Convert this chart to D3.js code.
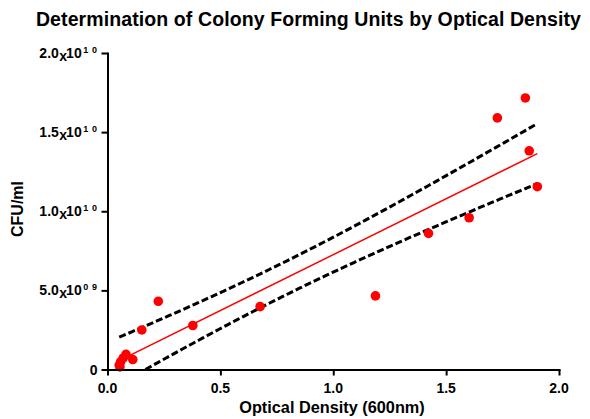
<!DOCTYPE html>
<html>
<head>
<meta charset="utf-8">
<script src="https://cdn.jsdelivr.net/npm/d3@7/dist/d3.min.js"></script>
<style>
  html, body { margin: 0; padding: 0; background: #fff; }
  svg { display: block; font-family: Arial, "Liberation Sans", sans-serif; }
</style>
</head>
<body>
<svg id="chart" width="590" height="419"></svg>
<script>
// Optical density readings (600 nm) and matching plate counts (CFU/ml)
const odDensity = [0.052, 0.055, 0.058, 0.070, 0.082, 0.112, 0.152, 0.225, 0.378,
                   0.676, 1.187, 1.422, 1.602, 1.727, 1.851, 1.868, 1.904];
const cfuCounts = [0.27e9, 0.16e9, 0.48e9, 0.73e9, 0.96e9, 0.63e9, 2.5e9, 4.31e9, 2.78e9,
                   3.97e9, 4.65e9, 8.6e9, 9.59e9, 15.9e9, 17.16e9, 13.82e9, 11.55e9];

const xTicks = [0, 0.5, 1.0, 1.5, 2.0];
const xTickLabels = ["0.0", "0.5", "1.0", "1.5", "2.0"];
const yTicks = [0, 5e9, 1e10, 1.5e10, 2e10];
// mantissa / exponent pairs for the scientific-notation tick labels
const yTickMantissa = ["0", "5.0", "1.0", "1.5", "2.0"];
const yTickExponent = [null, "0 9", "1 0", "1 0", "1 0"];

const titleText = "Determination of Colony Forming Units by Optical Density";
const xTitle = "Optical Density (600nm)";
const yTitle = "CFU/ml";

// two-sided 95% Student t for n - 2 = 15 degrees of freedom
const T_CRIT = 2.1314;

const svg = d3.select("#chart");
const x = d3.scaleLinear().domain([0, 2]).range([107.5, 559]);
const y = d3.scaleLinear().domain([0, 2e10]).range([369.5, 53]);

// ---- least-squares fit and 95% confidence band of the line ----
const n = odDensity.length;
const mx = d3.mean(odDensity), my = d3.mean(cfuCounts);
let sxx = 0, sxy = 0;
for (let i = 0; i < n; i++) {
  sxx += (odDensity[i] - mx) ** 2;
  sxy += (odDensity[i] - mx) * (cfuCounts[i] - my);
}
const slope = sxy / sxx;
const intercept = my - slope * mx;
let ssr = 0;
for (let i = 0; i < n; i++) ssr += (cfuCounts[i] - (intercept + slope * odDensity[i])) ** 2;
const sres = Math.sqrt(ssr / (n - 2));

const [xmin, xmax] = d3.extent(odDensity);
const grid = d3.range(0, 101).map(k => xmin + (xmax - xmin) * k / 100);
const fit = v => intercept + slope * v;
const half = v => T_CRIT * sres * Math.sqrt(1 / n + (v - mx) ** 2 / sxx);

svg.append("defs").append("clipPath").attr("id", "plotClip")
  .append("rect").attr("x", x(0)).attr("y", y(2e10))
  .attr("width", x(2) - x(0)).attr("height", y(0) - y(2e10));

const plot = svg.append("g").attr("clip-path", "url(#plotClip)");
const line = d3.line().x(d => x(d[0])).y(d => y(d[1]));

plot.append("path")
  .datum(grid.map(v => [v, fit(v) + half(v)]))
  .attr("d", line).attr("fill", "none").attr("stroke", "#000")
  .attr("stroke-width", 3).attr("stroke-dasharray", "7,3");
plot.append("path")
  .datum(grid.map(v => [v, fit(v) - half(v)]))
  .attr("d", line).attr("fill", "none").attr("stroke", "#000")
  .attr("stroke-width", 3).attr("stroke-dasharray", "7,3");
plot.append("path")
  .datum([[xmin, fit(xmin)], [xmax, fit(xmax)]])
  .attr("d", line).attr("fill", "none").attr("stroke", "#ff0000")
  .attr("stroke-width", 1.5);

// ---- data points ----
svg.append("g").selectAll("circle")
  .data(odDensity.map((v, i) => [v, cfuCounts[i]]))
  .join("circle")
  .attr("cx", d => x(d[0])).attr("cy", d => y(d[1]))
  .attr("r", 4.8).attr("fill", "#ff0000");

// ---- axes ----
const xAxis = svg.append("g").attr("transform", `translate(0,${y(0)})`)
  .call(d3.axisBottom(x).tickValues(xTicks).tickSize(6).tickSizeOuter(0).tickFormat(""));
const yAxis = svg.append("g").attr("transform", `translate(${x(0)},0)`)
  .call(d3.axisLeft(y).tickValues(yTicks).tickSize(6).tickSizeOuter(0).tickFormat(""));
[xAxis, yAxis].forEach(g => {
  g.selectAll("path, line").attr("stroke", "#000").attr("stroke-width", 2);
  g.select(".domain").attr("stroke-linecap", "square");
});

svg.append("g").selectAll("text")
  .data(xTicks)
  .join("text")
  .attr("x", d => x(d)).attr("y", y(0) + 23.5)
  .attr("text-anchor", "middle")
  .attr("font-size", 14).attr("font-weight", "bold").attr("fill", "#000")
  .text((d, i) => xTickLabels[i]);

// y labels: mantissa, a lowered "x", then 10 with a small spaced exponent
const yLab = svg.append("g").selectAll("text")
  .data(yTicks)
  .join("text")
  .attr("x", x(0) - 10).attr("y", d => y(d) + 5)
  .attr("text-anchor", "end")
  .attr("font-size", 14).attr("font-weight", "bold").attr("fill", "#000");
yLab.each(function (d, i) {
  const t = d3.select(this);
  t.append("tspan").text(yTickMantissa[i]);
  if (yTickExponent[i]) {
    t.append("tspan").attr("dy", 3).attr("dx", 0.5).text("x");
    t.append("tspan").attr("dy", -3).attr("dx", -1).text("10");
    t.append("tspan").attr("dy", -5).attr("dx", 1.5)
      .attr("font-size", 9).attr("letter-spacing", 0.6).text(yTickExponent[i]);
  }
});

// ---- titles ----
svg.append("text")
  .attr("x", 308.5).attr("y", 25.5).attr("text-anchor", "middle")
  .attr("font-size", 19.5).attr("letter-spacing", 0.1)
  .attr("font-weight", "bold").attr("fill", "#000")
  .text(titleText);
svg.append("text")
  .attr("x", 332).attr("y", 412.5).attr("text-anchor", "middle")
  .attr("font-size", 16.3).attr("font-weight", "bold").attr("fill", "#000")
  .text(xTitle);
svg.append("text")
  .attr("transform", "translate(23,209) rotate(-90)").attr("text-anchor", "middle")
  .attr("font-size", 16).attr("font-weight", "bold").attr("fill", "#000")
  .text(yTitle);
</script>
</body>
</html>
